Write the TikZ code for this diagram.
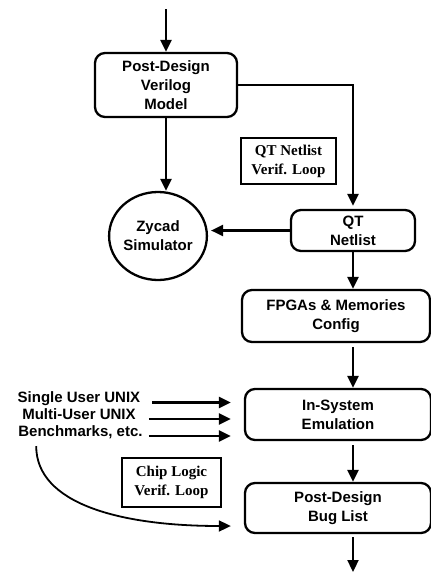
\documentclass[tikz,border=0pt]{standalone}
\usepackage{fontspec}
\setmainfont{Liberation Serif}
\setsansfont{Liberation Sans}
\usetikzlibrary{arrows.meta,shapes.geometric,positioning}

\tikzset{
  stage/.style={draw, line width=2.3pt, rounded corners=10pt, align=center,
    inner sep=0pt, font=\sffamily\bfseries\fontsize{15}{19}\selectfont},
  loopbox/.style={draw, line width=2pt, align=center, inner sep=0pt,
    font=\rmfamily\bfseries\fontsize{15}{19}\selectfont},
  feed/.style={inner sep=0pt, anchor=base, font=\sffamily\bfseries\fontsize{15}{17}\selectfont},
  flow/.style={-{Triangle[length=12pt,width=11pt]}, line width=2.3pt},
}

\begin{document}
\begin{tikzpicture}[x=1pt,y=-1pt]
  \useasboundingbox (0,0) rectangle (431,574);

  % stages of the flow
  \node[stage, minimum width=142pt, minimum height=64pt] (model) at (166,85) {Post-Design\\Verilog\\Model};
  \node[stage, ellipse, minimum width=96pt, minimum height=88pt] (zycad) at (158,236) {Zycad\\Simulator};
  \node[stage, minimum width=124pt, minimum height=41pt] (qt) at (353,230.5) {QT\\Netlist};
  \node[stage, minimum width=188pt, minimum height=52pt] (fpga) at (336,316) {FPGAs \& Memories\\Config};
  \node[stage, minimum width=186pt, minimum height=51pt] (emul) at (338,414.5) {In-System\\Emulation};
  \node[stage, minimum width=186pt, minimum height=50pt] (bug) at (338,508) {Post-Design\\Bug List};

  % loop labels
  \node[loopbox, minimum width=95pt, minimum height=46pt] (qtloop) at (288.5,161) {QT Netlist\\Verif. Loop};
  \node[loopbox, minimum width=99pt, minimum height=49pt] (chiploop) at (171.5,482.5) {Chip Logic\\Verif. Loop};

  % workloads
  \node[feed] (single) at (79,402.5) {Single User UNIX};
  \node[feed] (multi) at (79,419) {Multi-User UNIX};
  \node[feed] (bench) at (80.5,436) {Benchmarks, etc.};

  \coordinate (in) at (166,9);
  \coordinate (out) at (353,572);

  % arrows
  \draw[flow] (in) -- (model.north);
  \draw[flow] (model.south) -- (model.south |- zycad.north);
  \draw[flow, shorten >=3pt] (model.east) -| (qt.north);
  \draw[flow, shorten >=3pt] (qt.west) -- (qt.west -| zycad.east);
  \draw[flow] (qt.south) -- (qt.south |- fpga.north);
  \draw[flow, shorten <=4pt] (fpga.south -| qt.south) -- (emul.north -| qt.south);
  \draw[flow, shorten <=4pt] (emul.south -| qt.south) -- (bug.north -| qt.south);
  \draw[flow, shorten <=3pt] (bug.south -| qt.south) -- (out);

  \draw[flow, shorten >=13pt] ([xshift=12pt]single.base east) -- (single.base east -| emul.west);
  \draw[flow, shorten >=13pt] ([xshift=13pt]multi.base east) -- (multi.base east -| emul.west);
  \draw[flow, shorten >=13pt] ([xshift=6pt]bench.base east) -- (bench.base east -| emul.west);
  \draw[flow, line width=1.8pt] ([xshift=18pt,yshift=-7.5pt]bench.south west) .. controls +(0,58) and +(-110,0) .. ([xshift=-13pt,yshift=-18pt]bug.west);
\end{tikzpicture}
\end{document}
